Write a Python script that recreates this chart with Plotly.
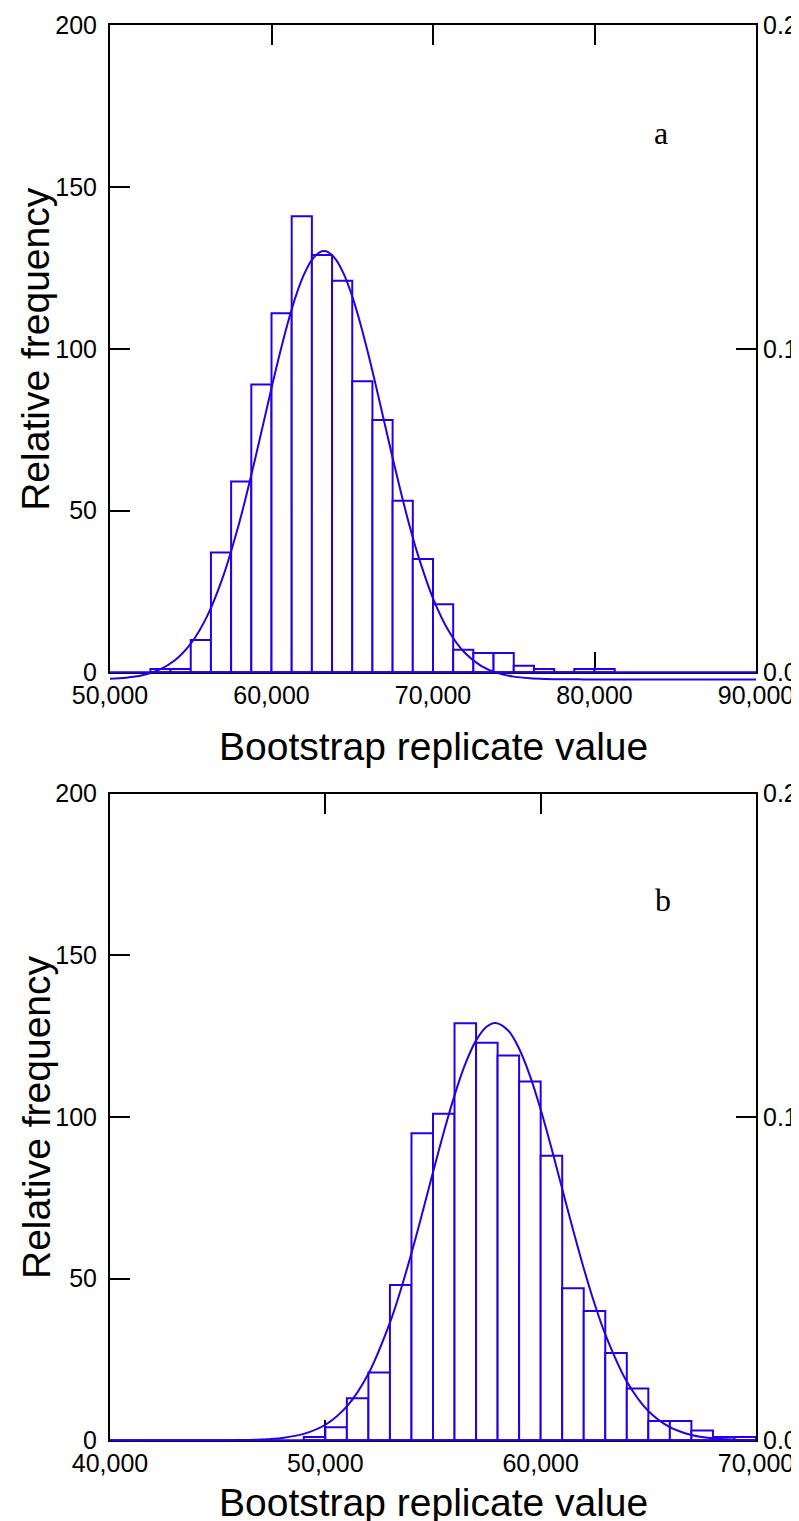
import plotly.graph_objects as go

# ---------------- data ----------------
# Panel a
a_bin_left = [52500, 53750, 55000, 56250, 57500, 58750, 60000, 61250, 62500,
              63750, 65000, 66250, 67500, 68750, 70000, 71250, 72500, 73750,
              75000, 76250, 77500, 78750, 80000]
a_bin_width = 1250
a_counts = [1, 1, 10, 37, 59, 89, 111, 141, 129, 121, 90, 78, 53, 35, 21, 7,
            6, 6, 2, 1, 0, 1, 1]
a_curve_x = [50000, 51000, 52000, 53000, 54000, 55000, 56000, 57000, 58000,
             58500, 59000, 59500, 60000, 60500, 61000, 61500, 62000, 62500,
             63000, 63250, 63500, 64000, 64500, 65000, 65500, 66000, 66500,
             67000, 67500, 68000, 68500, 69000, 70000, 71000, 72000, 73000,
             74000, 75000, 76000, 77000, 78000, 79000, 80000, 82000, 84000,
             86000, 88000, 90000]
a_curve_y = [-1.98, -1.65, -0.90, 0.66, 3.62, 8.83, 17.21, 29.58, 46.17,
             55.88, 66.24, 77.03, 87.83, 98.25, 107.85, 116.2, 122.85, 127.5,
             129.9, 130.2, 129.9, 127.5, 122.85, 116.2, 107.85, 98.25, 87.83,
             77.03, 66.24, 55.88, 46.17, 37.37, 22.88, 12.56, 5.88, 1.91,
             -0.25, -1.34, -1.85, -2.06, -2.15, -2.18, -2.2, -2.2, -2.2,
             -2.2, -2.2, -2.2]
a_x_ticks = [50000, 60000, 70000, 80000, 90000]
a_label_pos = [84100, 166.6]

# Panel b
b_bin_left = [49000, 50000, 51000, 52000, 53000, 54000, 55000, 56000, 57000,
              58000, 59000, 60000, 61000, 62000, 63000, 64000, 65000, 66000,
              67000, 68000, 69000]
b_bin_width = 1000
b_counts = [1, 4, 13, 21, 48, 95, 101, 129, 123, 119, 111, 88, 47, 40, 27, 16,
            6, 6, 3, 1, 1]
b_curve_x = [40000, 41000, 42000, 43000, 44000, 45000, 46000, 47000, 48000,
             49000, 50000, 51000, 52000, 53000, 53500, 54000, 54500, 55000,
             55500, 56000, 56500, 57000, 57500, 57900, 58500, 59000, 59500,
             60000, 60500, 61000, 61500, 62000, 62500, 63000, 64000, 65000,
             66000, 67000, 68000, 69000, 70000]
b_curve_y = [0, 0, 0, 0, 0.01, 0.02, 0.07, 0.25, 0.74, 1.99, 4.81, 10.51,
             20.6, 36.4, 46.5, 57.9, 70.2, 82.9, 95.3, 106.7, 116.4, 123.7,
             128.0, 129.1, 126.7, 121.1, 112.8, 102.3, 90.4, 77.8, 65.2, 53.2,
             42.3, 32.8, 18.2, 9.06, 4.07, 1.64, 0.60, 0.20, 0.06]
b_x_ticks = [40000, 50000, 60000, 70000]
b_label_pos = [65670, 167]

y_ticks = [0, 50, 100, 150, 200]
y2_ticks = [0.0, 0.1, 0.2]
x_title = "Bootstrap replicate value"
y_title = "Relative frequency"
panel_labels = ["a", "b"]

# ---------------- layout geometry (pixels) ----------------
W, H = 799, 1521
ML, MR, MT, MB = 102, 51, 17, 69
PH = H - MT - MB
PW = W - ML - MR
TOP_PX = (17.3, 664.3)     # top / bottom pixel rows of panel a
BOT_PX = (785.7, 1432.3)   # top / bottom pixel rows of panel b
PAD = 18                   # extra room below each panel for the fitted curve


def py(px):
    return (H - MB - px) / PH


def dom(box, pad=0):
    return [max(0.0, py(box[1] + pad)), min(1.0, py(box[0]))]


def pad_units(box, yrange):
    return PAD * (yrange[1] - yrange[0]) / (box[1] - box[0])


# ---------------- styling ----------------
BLUE = "#2400e6"
SANS = "Liberation Sans, Arial, sans-serif"
SERIF = "Liberation Serif, Times New Roman, serif"
TICK_FONT = dict(family=SANS, size=25, color="black")

fig = go.Figure()


def add_panel(bin_left, width, counts, cx, cy, xa, ya, ya_ext):
    centers = [b + width / 2 for b in bin_left]
    fig.add_trace(go.Bar(x=centers, y=counts, width=width,
                         marker=dict(color="white", line=dict(color=BLUE, width=2)),
                         xaxis=xa, yaxis=ya, showlegend=False, hoverinfo="skip"))
    fig.add_trace(go.Scatter(x=[cx[0], cx[-1]], y=[0, 0], mode="lines",
                             line=dict(color=BLUE, width=2),
                             xaxis=xa, yaxis=ya_ext, showlegend=False, hoverinfo="skip"))
    fig.add_trace(go.Scatter(x=cx, y=cy, mode="lines",
                             line=dict(color=BLUE, width=2, shape="spline"),
                             xaxis=xa, yaxis=ya_ext, showlegend=False, hoverinfo="skip"))


add_panel(a_bin_left, a_bin_width, a_counts, a_curve_x, a_curve_y, "x", "y", "y5")
add_panel(b_bin_left, b_bin_width, b_counts, b_curve_x, b_curve_y, "x2", "y2", "y6")

# dummy traces so the right-hand axes are drawn
fig.add_trace(go.Scatter(x=[a_x_ticks[0]], y=[0], mode="markers", marker=dict(opacity=0),
                         xaxis="x", yaxis="y3", showlegend=False, hoverinfo="skip"))
fig.add_trace(go.Scatter(x=[b_x_ticks[0]], y=[0], mode="markers", marker=dict(opacity=0),
                         xaxis="x2", yaxis="y4", showlegend=False, hoverinfo="skip"))

common_x = dict(ticks="inside", ticklen=20, tickwidth=2, tickcolor="black",
                showline=True, linecolor="black", linewidth=2, mirror="ticks",
                showgrid=False, zeroline=False, tickfont=TICK_FONT,
                tickformat=",d", layer="below traces", automargin=False)
common_y = dict(ticks="inside", ticklen=20, tickwidth=2, tickcolor="black",
                showline=True, linecolor="black", linewidth=2, mirror=True,
                showgrid=False, zeroline=False, tickfont=TICK_FONT,
                layer="below traces", ticklabelstandoff=6, automargin=False)
right_y = dict(ticks="inside", ticklen=20, tickwidth=2, tickcolor="black",
               showline=False, showgrid=False, zeroline=False, tickfont=TICK_FONT,
               side="right", tickformat=".1f", layer="below traces",
               ticklabelstandoff=6, automargin=False)
hidden = dict(visible=False, showgrid=False, zeroline=False, automargin=False)

y_range = [y_ticks[0], y_ticks[-1]]
TOP_DOM = dom(TOP_PX)
BOT_DOM = dom(BOT_PX)

fig.update_layout(
    template="none",
    width=W, height=H,
    margin=dict(l=ML, r=MR, t=MT, b=MB, autoexpand=False),
    paper_bgcolor="white", plot_bgcolor="rgba(0,0,0,0)",
    xaxis=dict(domain=[0, 1], anchor="y", range=[a_x_ticks[0], a_x_ticks[-1]],
               tickvals=a_x_ticks, **common_x),
    yaxis=dict(domain=TOP_DOM, anchor="x", range=y_range,
               tickvals=y_ticks, **common_y),
    yaxis3=dict(overlaying="y", anchor="x", range=[y2_ticks[0], y2_ticks[-1]],
                tickvals=y2_ticks, **right_y),
    yaxis5=dict(domain=dom(TOP_PX, PAD), anchor="x",
                range=[y_range[0] - pad_units(TOP_PX, y_range), y_range[1]], **hidden),
    xaxis2=dict(domain=[0, 1], anchor="y2", range=[b_x_ticks[0], b_x_ticks[-1]],
                tickvals=b_x_ticks, **common_x),
    yaxis2=dict(domain=BOT_DOM, anchor="x2", range=y_range,
                tickvals=y_ticks, **common_y),
    yaxis4=dict(overlaying="y2", anchor="x2", range=[y2_ticks[0], y2_ticks[-1]],
                tickvals=y2_ticks, **right_y),
    yaxis6=dict(domain=dom(BOT_PX, PAD), anchor="x2",
                range=[y_range[0] - pad_units(BOT_PX, y_range), y_range[1]], **hidden),
)

title_font = dict(family=SANS, size=39, color="black")
YT_X = (28 - ML) / PW
annotations = []
for box, xt_px in [(TOP_PX, 738), (BOT_PX, 1494)]:
    annotations.append(dict(text=y_title, xref="paper", yref="paper", x=YT_X,
                            y=py((box[0] + box[1]) / 2),
                            xanchor="center", yanchor="middle", textangle=-90,
                            showarrow=False, font=title_font))
    annotations.append(dict(text=x_title, xref="paper", yref="paper", x=0.5, y=py(xt_px),
                            xanchor="center", yanchor="middle",
                            showarrow=False, font=title_font))
annotations.append(dict(text=panel_labels[0], xref="x", yref="y",
                        x=a_label_pos[0], y=a_label_pos[1],
                        xanchor="center", yanchor="middle", showarrow=False,
                        font=dict(family=SERIF, size=32, color="black")))
annotations.append(dict(text=panel_labels[1], xref="x2", yref="y2",
                        x=b_label_pos[0], y=b_label_pos[1],
                        xanchor="center", yanchor="middle", showarrow=False,
                        font=dict(family=SERIF, size=32, color="black")))
fig.update_layout(annotations=annotations)

fig.write_html("out.html")
